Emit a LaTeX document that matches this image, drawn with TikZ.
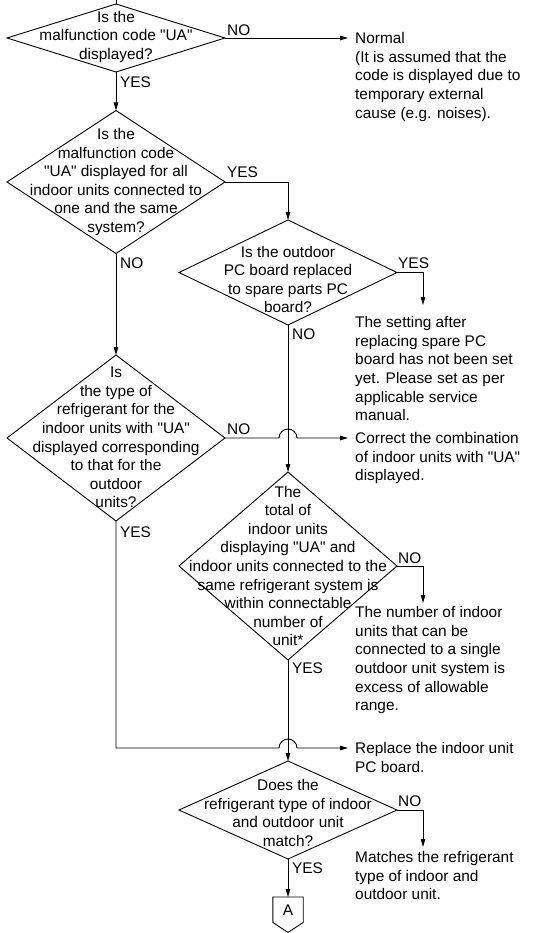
\documentclass[tikz,border=0pt]{standalone}
\usepackage{fontspec}
\setmainfont{Liberation Sans}[Ligatures=TeXOff]
\usetikzlibrary{shapes.geometric,arrows.meta}
\newcommand{\fcfont}{\fontsize{15.4pt}{18.6pt}\selectfont}
\newcommand{\qUA}{\char34 UA\char34}
\tikzset{
  conn/.style={draw, line width=0.9pt},
  arr/.style={conn, -{Triangle[length=8pt,width=4.5pt]}},
  dia/.style={diamond, draw, line width=0.9pt, inner sep=0pt, outer sep=0pt},
  dtext/.style={align=center, inner sep=0pt, font=\fcfont},
  rtext/.style={align=left, anchor=north west, inner sep=0pt, font=\fcfont},
  lab/.style={anchor=west, inner sep=0pt, font=\fcfont}
}
\begin{document}
\begin{tikzpicture}[x=1pt,y=-1pt]
\useasboundingbox (0,0) rectangle (541,933);

% diamonds
\node[dia, minimum width=218pt, minimum height=68pt] (d1) at (116,38) {};
\node[dia, minimum width=218pt, minimum height=143pt] (d2) at (116,182) {};
\node[dia, minimum width=218pt, minimum height=105pt] (d3) at (288,272.5) {};
\node[dia, minimum width=218pt, minimum height=166pt] (d4) at (116,438) {};
\node[dia, minimum width=218pt, minimum height=188pt] (d5) at (288,566) {};
\node[dia, minimum width=218pt, minimum height=98pt] (d6) at (288,810) {};

% diamond texts
\node[dtext] (t1) at (116,37) {Is the\\malfunction code \qUA\\displayed?};
\node[dtext] (t2) at (116,182) {Is the\\malfunction code\\\qUA{} displayed for all\\indoor units connected to\\one and the same\\system?};
\node[dtext] (t3) at (288,279.5) {Is the outdoor\\PC board replaced\\to spare parts PC\\board?};
\node[dtext] (t4) at (116,437.5) {Is\\the type of\\refrigerant for the\\indoor units with \qUA\\displayed corresponding\\to that for the\\outdoor\\units?};
\node[dtext] (t5) at (288,566) {The\\total of\\indoor units\\displaying \qUA{} and\\indoor units connected to the\\same refrigerant system is\\within connectable\\number of\\unit*};
\node[dtext] (t6) at (288,813) {Does the\\refrigerant type of indoor\\and outdoor unit\\match?};

% right-side texts
\node[rtext] (r1) at (355,32.3) {Normal\\(It is assumed that the\\code is displayed due to\\temporary external\\cause (e.g. noises).};
\node[rtext] (r2) at (355,316.3) {The setting after\\replacing spare PC\\board has not been set\\yet. Please set as per\\applicable service\\manual.};
\node[rtext] (r3) at (355,432.3) {Correct the combination\\of indoor units with \qUA\\displayed.};
\node[rtext] (r4) at (355,606.3) {The number of indoor\\units that can be\\connected to a single\\outdoor unit system is\\excess of allowable\\range.};
\node[rtext] (r5) at (355,742.3) {Replace the indoor unit\\PC board.};
\node[rtext] (r6) at (355,851.3) {Matches the refrigerant\\type of indoor and\\outdoor unit.};

% connector A
\node[inner sep=0pt, minimum width=30pt, minimum height=25pt, anchor=north, font=\fcfont] (A) at (288,897) {A};
\draw[conn] (A.north west) -- (A.north east) -- (A.south east) -- (288,932.5) -- (A.south west) -- cycle;

% free ends
\coordinate (top) at (116,0);
\coordinate (e1) at (348,38);
\coordinate (e3) at (423,305);
\coordinate (e4) at (348,438);
\coordinate (e5) at (423,603);
\coordinate (e7) at (348,748);
\coordinate (e6) at (423,847);

% connectors
\draw[conn] (top) -- (d1.north);
\draw[arr] (d1.east) -- (e1);
\draw[arr] (d1.south) -- (d2.north);
\draw[arr] (d2.east) -| (d3.north);
\draw[arr] (d2.south) -- (d4.north);
\draw[arr] (d3.east) -| (e3);
\draw[arr] (d3.south) -- (d5.north);
\draw[arr] (d4.east) -- (279,438) arc[start angle=180, end angle=0, radius=9pt] -- (e4);
\draw[arr] (d5.east) -| (e5);
\draw[arr] (d5.south) -- (d6.north);
\draw[arr] (d4.south) |- (279,748) arc[start angle=180, end angle=0, radius=9pt] -- (e7);
\draw[arr] (d6.east) -| (e6);
\draw[arr] (d6.south) -- (A.north);

% labels
\node[lab] (l1n) at (227,30) {NO};
\node[lab] (l1y) at (120,82) {YES};
\node[lab] (l2y) at (227,172) {YES};
\node[lab] (l2n) at (120,263) {NO};
\node[lab] (l3y) at (398,263) {YES};
\node[lab] (l3n) at (292,334) {NO};
\node[lab] (l4n) at (227,429) {NO};
\node[lab] (l4y) at (120,532) {YES};
\node[lab] (l5n) at (398,558) {NO};
\node[lab] (l5y) at (292,668) {YES};
\node[lab] (l6n) at (398,801) {NO};
\node[lab] (l6y) at (292,868) {YES};
\end{tikzpicture}
\end{document}
